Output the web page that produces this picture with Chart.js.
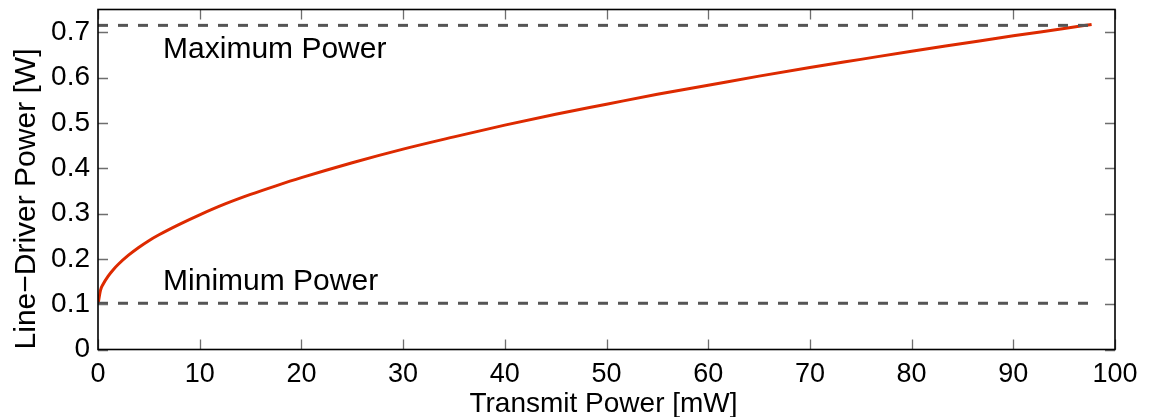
<!DOCTYPE html>
<html>
<head>
<meta charset="utf-8">
<script src="https://cdn.jsdelivr.net/npm/chart.js@4"></script>
<style>
  html, body { margin: 0; padding: 0; background: #fff; }
  #wrap { width: 1151px; height: 417px; }
</style>
</head>
<body>
<div id="wrap"><canvas id="powerChart"></canvas></div>
<script>
// ── data ─────────────────────────────────────────────────────────────────────
const transmitPower = [0, 0.25, 0.5, 1, 1.5, 2, 3, 4, 5, 6, 8, 10, 12.5, 15, 17.5, 20,
    25, 30, 35, 40, 45, 50, 55, 60, 65, 70, 75, 80, 85, 90, 95, 97.7];
const lineDriverPower = [0.100, 0.131, 0.144, 0.162, 0.176, 0.188, 0.208, 0.225, 0.240, 0.253,
    0.276, 0.297, 0.321, 0.342, 0.361, 0.379, 0.412, 0.442, 0.469, 0.495, 0.519, 0.541,
    0.563, 0.583, 0.603, 0.622, 0.640, 0.658, 0.675, 0.692, 0.708, 0.717];
const limitSpan = [0, 97.7];
const maxPower = 0.715;
const minPower = 0.102;
const xTicks = [0, 10, 20, 30, 40, 50, 60, 70, 80, 90, 100];
const yTicks = [0, 0.1, 0.2, 0.3, 0.4, 0.5, 0.6, 0.7];

const FONT = "'Liberation Sans', Arial, Helvetica, sans-serif";

// ── frame, inward ticks, labels ──────────────────────────────────────────────
const framePlugin = {
    id: "frame",
    afterDraw(chart) {
        const { ctx, chartArea: a, scales: { x, y } } = chart;
        ctx.save();

        // inward tick marks on all four sides
        ctx.strokeStyle = "#6e6e6e";
        ctx.lineWidth = 1.3;
        ctx.beginPath();
        x.ticks.forEach(t => {
            const px = Math.round(x.getPixelForValue(t.value)) + 0.5;
            ctx.moveTo(px, a.bottom); ctx.lineTo(px, a.bottom - 10);
            ctx.moveTo(px, a.top); ctx.lineTo(px, a.top + 10);
        });
        y.ticks.forEach(t => {
            const py = Math.round(y.getPixelForValue(t.value)) + 0.5;
            ctx.moveTo(a.left, py); ctx.lineTo(a.left + 10, py);
            ctx.moveTo(a.right, py); ctx.lineTo(a.right - 10, py);
        });
        ctx.stroke();

        ctx.strokeStyle = "#000";
        ctx.lineWidth = 1.6;
        ctx.strokeRect(a.left, a.top, a.width, a.height);

        // level annotations
        ctx.fillStyle = "#000";
        ctx.font = "30px " + FONT;
        ctx.textAlign = "left";
        ctx.textBaseline = "alphabetic";
        ctx.fillText("Maximum Power", x.getPixelForValue(6.4), y.getPixelForValue(0.642));
        ctx.fillText("Minimum Power", x.getPixelForValue(6.4), y.getPixelForValue(0.131));

        // axis titles
        ctx.font = "28px " + FONT;
        ctx.textAlign = "center";
        ctx.fillText("Transmit Power [mW]", (a.left + a.right) / 2 - 3, 411.5);

        ctx.font = "30px " + FONT;
        ctx.translate(35, 199);
        ctx.rotate(-Math.PI / 2);
        ctx.fillText("Line\u2212Driver Power [W]", 0, 0);
        ctx.restore();
    },
};

const limitLine = (label, level) => ({
    label,
    data: limitSpan.map(v => ({ x: v, y: level })),
    borderColor: "#555555",
    borderWidth: 3,
    borderDash: [10, 10],
    pointRadius: 0,
    fill: false,
});

new Chart(document.getElementById("powerChart"), {
    type: "line",
    data: {
        datasets: [
            limitLine("Maximum Power", maxPower),
            limitLine("Minimum Power", minPower),
            {
                label: "Line-Driver Power",
                data: transmitPower.map((v, i) => ({ x: v, y: lineDriverPower[i] })),
                borderColor: "#dd2a00",
                borderWidth: 3,
                pointRadius: 0,
                cubicInterpolationMode: "monotone",
                fill: false,
            },
        ],
    },
    options: {
        responsive: true,
        maintainAspectRatio: false,
        animation: false,
        layout: { padding: { top: 9.5, right: 36, left: 0, bottom: 0 } },
        plugins: { legend: { display: false }, tooltip: { enabled: false } },
        scales: {
            x: {
                type: "linear",
                min: 0,
                max: 100,
                afterBuildTicks: s => { s.ticks = xTicks.map(v => ({ value: v })); },
                afterFit: s => { s.height = 67.5; s.paddingLeft = 0; s.paddingRight = 0; },
                grid: { display: false, drawTicks: false },
                border: { display: false },
                ticks: {
                    color: "#000",
                    padding: 9,
                    maxRotation: 0,
                    font: { family: FONT, size: 27 },
                },
            },
            y: {
                type: "linear",
                min: 0,
                max: 0.75,
                afterBuildTicks: s => { s.ticks = yTicks.map(v => ({ value: v })); },
                afterFit: s => { s.width = 98; s.paddingTop = 0; s.paddingBottom = 0; },
                grid: { display: false, drawTicks: false },
                border: { display: false },
                ticks: {
                    color: "#000",
                    padding: 8,
                    font: { family: FONT, size: 28 },
                    callback: v => String(+v.toFixed(1)),
                },
            },
        },
    },
    plugins: [framePlugin],
});
</script>
</body>
</html>
